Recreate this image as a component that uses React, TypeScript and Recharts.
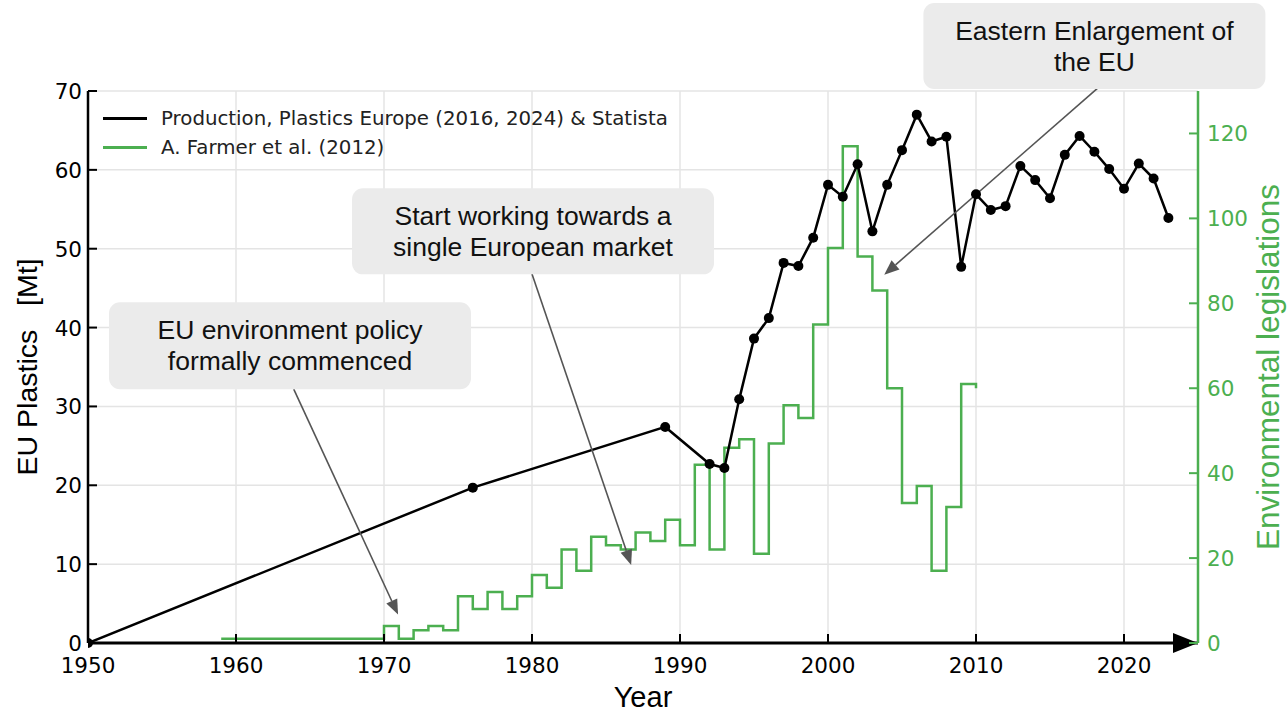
import React from 'react';
import {
  ComposedChart, Line, XAxis, YAxis, CartesianGrid, Legend,
  ReferenceDot, ReferenceLine, Label,
} from 'recharts';

// EU plastics production (Mt)
const plasticYears = [
  1950, 1976, 1989, 1992, 1993, 1994, 1995, 1996, 1997, 1998, 1999, 2000,
  2001, 2002, 2003, 2004, 2005, 2006, 2007, 2008, 2009, 2010, 2011, 2012,
  2013, 2014, 2015, 2016, 2017, 2018, 2019, 2020, 2021, 2022, 2023,
];
const plasticMt = [
  0, 19.7, 27.4, 22.7, 22.2, 30.9, 38.6, 41.2, 48.2, 47.8, 51.4, 58.1,
  56.6, 60.7, 52.2, 58.1, 62.5, 67.0, 63.6, 64.2, 47.7, 56.9, 54.9, 55.4,
  60.5, 58.7, 56.4, 61.9, 64.3, 62.3, 60.1, 57.6, 60.8, 58.9, 53.9,
];

// environmental legislations per year (Farmer et al. 2012)
const lawYears = [
  1959, 1960, 1961, 1962, 1963, 1964, 1965, 1966, 1967, 1968, 1969, 1970,
  1971, 1972, 1973, 1974, 1975, 1976, 1977, 1978, 1979, 1980, 1981, 1982,
  1983, 1984, 1985, 1986, 1987, 1988, 1989, 1990, 1991, 1992, 1993, 1994,
  1995, 1996, 1997, 1998, 1999, 2000, 2001, 2002, 2003, 2004, 2005, 2006,
  2007, 2008, 2009, 2010,
];
const lawCounts = [
  1, 1, 1, 1, 1, 1, 1, 1, 1, 1, 1, 4,
  1, 3, 4, 3, 11, 8, 12, 8, 11, 16, 13, 22,
  17, 25, 23, 22, 26, 24, 29, 23, 42, 22, 46, 48,
  21, 47, 56, 53, 75, 93, 117, 91, 83, 60, 33, 37,
  17, 32, 61, 60,
];

const yearTicks = [1950, 1960, 1970, 1980, 1990, 2000, 2010, 2020];
const mtTicks = [0, 10, 20, 30, 40, 50, 60, 70];
const lawTicks = [0, 20, 40, 60, 80, 100, 120];

const plasticData = plasticYears.map((year, i) => ({ year, mt: plasticMt[i] }));
const lawData = lawYears.map((year, i) => ({ year, laws: lawCounts[i] }));

const GREEN = '#4caf50';
const TICK_FONT = 'DejaVu Sans, sans-serif';
const TEXT_FONT = 'Liberation Sans, Arial, sans-serif';

// annotation boxes, anchored in data coords (year, Mt)
const notes = [
  {
    lines: ['EU environment policy', 'formally commenced'],
    at: { x: 1963.65, y: 37.7 }, w: 362, h: 87,
    from: { x: 1963.9, y: 32.2 }, to: { x: 1970.95, y: 3.6 },
  },
  {
    lines: ['Start working towards a', 'single European market'],
    at: { x: 1980.07, y: 52.2 }, w: 362, h: 86,
    from: { x: 1980.0, y: 46.8 }, to: { x: 1986.7, y: 9.9 },
  },
  {
    lines: ['Eastern Enlargement of', 'the EU'],
    at: { x: 2018.0, y: 75.7 }, w: 342, h: 86,
    from: { x: 2018.3, y: 70.5 }, to: { x: 2003.8, y: 46.7 },
  },
];

const XTick = ({ x, y, payload }: any) => (
  <g>
    <line x1={x} y1={y} x2={x} y2={y - 9} stroke="#000" strokeWidth={2} />
    <text x={x} y={y + 30} textAnchor="middle" fontSize={21.5} fontFamily={TICK_FONT} fill="#000">
      {payload.value}
    </text>
  </g>
);

const LeftTick = ({ x, y, payload }: any) => (
  <g>
    <line x1={x} y1={y} x2={x + 9} y2={y} stroke="#000" strokeWidth={2} />
    <text x={x - 6} y={y + 8} textAnchor="end" fontSize={21.5} fontFamily={TICK_FONT} fill="#000">
      {payload.value}
    </text>
  </g>
);

const RightTick = ({ x, y, payload }: any) => (
  <g>
    <line x1={x} y1={y} x2={x - 9} y2={y} stroke={GREEN} strokeWidth={2} />
    <text x={x + 9} y={y + 8} textAnchor="start" fontSize={21.5} fontFamily={TICK_FONT} fill={GREEN}>
      {payload.value}
    </text>
  </g>
);

const noteBox = (n: typeof notes[number]) => ({ cx, cy }: any) => (
  <g>
    <rect x={cx - n.w / 2} y={cy - n.h / 2} width={n.w} height={n.h} rx={11} fill="#ebebeb" />
    {n.lines.map((t, i) => (
      <text
        key={t}
        x={cx}
        y={cy - 6 + (i - 0.5) * 31 + 15}
        textAnchor="middle"
        fontSize={26.5}
        fontFamily={TEXT_FONT}
        fill="#111"
      >
        {t}
      </text>
    ))}
  </g>
);

const arrowShape = ({ x1, y1, x2, y2 }: any) => {
  const a = Math.atan2(y2 - y1, x2 - x1);
  const len = 15;
  const half = 6;
  const bx = x2 - len * Math.cos(a);
  const by = y2 - len * Math.sin(a);
  const px = -Math.sin(a) * half;
  const py = Math.cos(a) * half;
  return (
    <g>
      <line x1={x1} y1={y1} x2={bx} y2={by} stroke="#555" strokeWidth={1.6} />
      <path d={`M${x2},${y2} L${bx + px},${by + py} L${bx - px},${by - py} Z`} fill="#555" />
    </g>
  );
};

const axisArrow = ({ cx, cy }: any) => (
  <path d={`M${cx},${cy} L${cx - 25},${cy - 10} L${cx - 25},${cy + 10} Z`} fill="#000" />
);

const LegendBox = () => (
  <div style={{ fontFamily: TICK_FONT, fontSize: 19.8, color: '#222' }}>
    {[
      { name: 'Production, Plastics Europe (2016, 2024) & Statista', color: '#000' },
      { name: 'A. Farmer et al. (2012)', color: GREEN },
    ].map((r) => (
      <div key={r.name} style={{ display: 'flex', alignItems: 'center', height: 29 }}>
        <svg width={65} height={29}>
          <line x1={7} y1={14.5} x2={51} y2={14.5} stroke={r.color} strokeWidth={3} />
        </svg>
        <span style={{ whiteSpace: 'nowrap' }}>{r.name}</span>
      </div>
    ))}
  </div>
);

const leftTitle = ({ viewBox }: any) => {
  const cx = 27;
  const cy = viewBox.y + viewBox.height / 2;
  return (
    <text
      x={cx}
      y={cy}
      transform={`rotate(-90 ${cx} ${cy})`}
      textAnchor="middle"
      dominantBaseline="central"
      fontSize={28.5}
      fontFamily={TEXT_FONT}
      fill="#000"
      style={{ whiteSpace: 'pre' }}
    >
      {'EU Plastics   [Mt]'}
    </text>
  );
};

const rightTitle = ({ viewBox }: any) => {
  const cx = 1268;
  const cy = viewBox.y + viewBox.height / 2;
  return (
    <text
      x={cx}
      y={cy}
      transform={`rotate(-90 ${cx} ${cy})`}
      textAnchor="middle"
      dominantBaseline="central"
      fontSize={31.5}
      fontFamily={TEXT_FONT}
      fill={GREEN}
    >
      Environmental legislations
    </text>
  );
};

const bottomTitle = ({ viewBox }: any) => (
  <text
    x={viewBox.x + viewBox.width / 2}
    y={707}
    textAnchor="middle"
    fontSize={29}
    fontFamily={TEXT_FONT}
    fill="#000"
  >
    Year
  </text>
);

export default function App() {
  return (
    <div style={{ position: 'absolute', left: 0, top: 0, background: '#fff' }}>
      <ComposedChart width={1287} height={714} margin={{ top: 91, right: 0, bottom: 0, left: 0 }}>
        <CartesianGrid yAxisId="left" stroke="#e4e4e4" strokeWidth={1.5} />
        <XAxis
          dataKey="year"
          type="number"
          domain={[1950, 2025]}
          ticks={yearTicks}
          allowDataOverflow
          height={71}
          axisLine={{ stroke: '#000', strokeWidth: 3 }}
          tickLine={false}
          tickSize={0}
          tickMargin={0}
          tick={XTick}
        >
          <Label content={bottomTitle} />
        </XAxis>
        <YAxis
          yAxisId="left"
          domain={[0, 70]}
          ticks={mtTicks}
          width={88}
          axisLine={{ stroke: '#000', strokeWidth: 2.5 }}
          tickLine={false}
          tickSize={0}
          tickMargin={0}
          tick={LeftTick}
        >
          <Label content={leftTitle} />
        </YAxis>
        <YAxis
          yAxisId="right"
          orientation="right"
          domain={[0, 130]}
          ticks={lawTicks}
          width={89}
          axisLine={{ stroke: GREEN, strokeWidth: 2.5 }}
          tickLine={false}
          tickSize={0}
          tickMargin={0}
          tick={RightTick}
        >
          <Label content={rightTitle} />
        </YAxis>
        <Legend
          layout="vertical"
          align="center"
          verticalAlign="middle"
          wrapperStyle={{ left: 96, top: 104, width: 640 }}
          content={LegendBox}
        />
        <Line
          yAxisId="right"
          data={lawData}
          dataKey="laws"
          type="stepAfter"
          stroke={GREEN}
          strokeWidth={2.5}
          dot={false}
          isAnimationActive={false}
        />
        <Line
          yAxisId="left"
          data={plasticData}
          dataKey="mt"
          type="linear"
          stroke="#000"
          strokeWidth={2.5}
          dot={{ r: 5, fill: '#000', stroke: '#000', strokeWidth: 0 }}
          isAnimationActive={false}
        />
        <ReferenceDot
          yAxisId="left"
          x={2025}
          y={0}
          ifOverflow="visible"
          shape={axisArrow}
        />
        {notes.map((n) => (
          <ReferenceLine
            key={'a' + n.lines[0]}
            yAxisId="left"
            segment={[n.from, n.to]}
            ifOverflow="visible"
            shape={arrowShape}
          />
        ))}
        {notes.map((n) => (
          <ReferenceDot
            key={'b' + n.lines[0]}
            yAxisId="left"
            x={n.at.x}
            y={n.at.y}
            ifOverflow="visible"
            shape={noteBox(n)}
          />
        ))}
      </ComposedChart>
    </div>
  );
}
